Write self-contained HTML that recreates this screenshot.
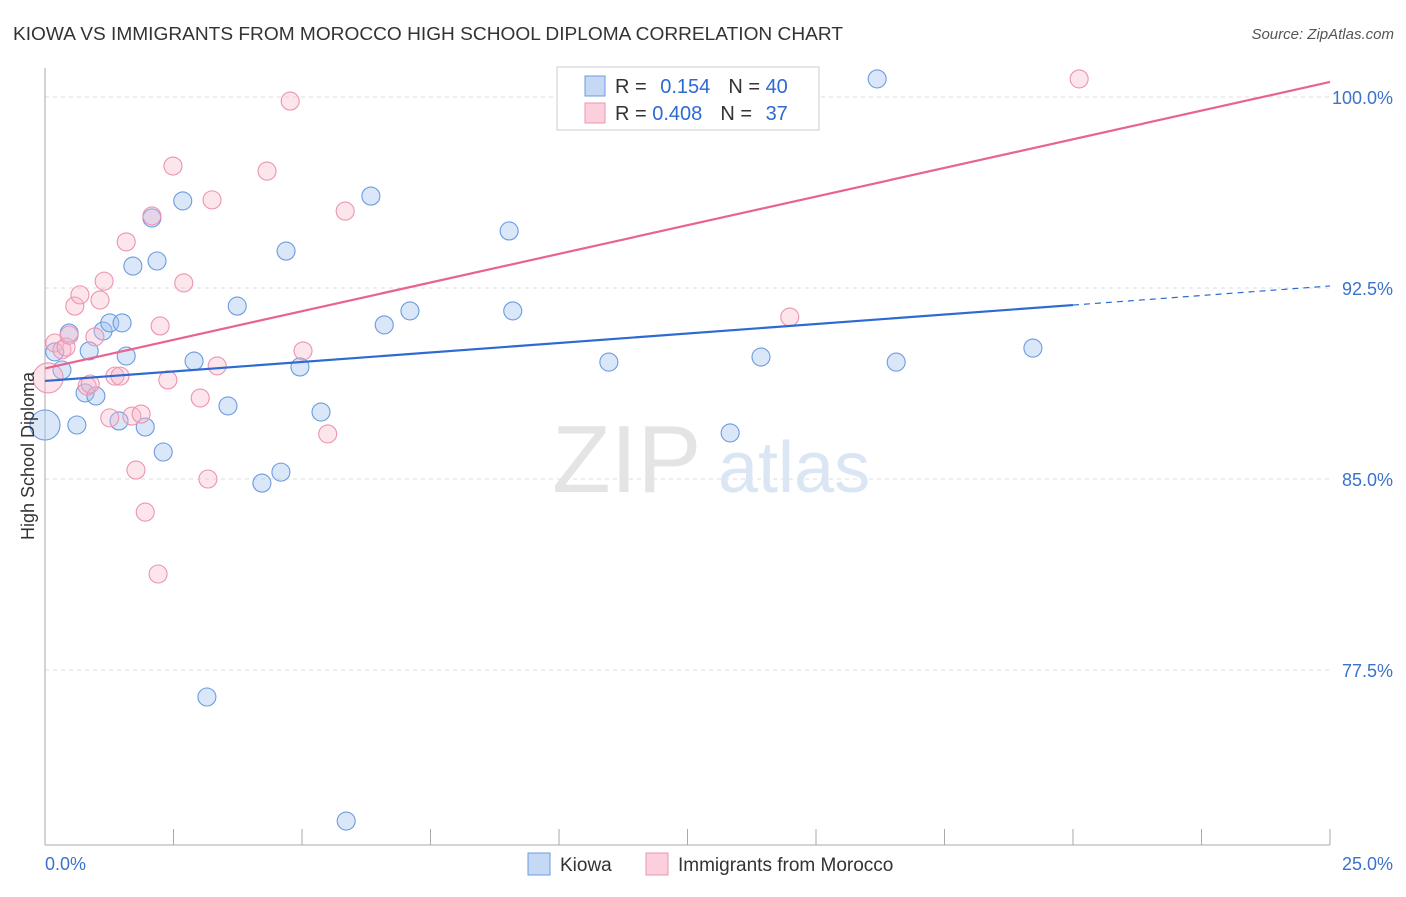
<!DOCTYPE html>
<html><head><meta charset="utf-8"><style>
body{margin:0;background:#fff;font-family:"Liberation Sans",sans-serif}
svg text{font-family:"Liberation Sans",sans-serif}
</style></head><body>
<svg id="chart" width="1406" height="892" xmlns="http://www.w3.org/2000/svg">
<text x="13" y="40" font-size="18" fill="#333" textLength="830" lengthAdjust="spacingAndGlyphs">KIOWA VS IMMIGRANTS FROM MOROCCO HIGH SCHOOL DIPLOMA CORRELATION CHART</text>
<text x="1394" y="39" font-size="15" fill="#555" text-anchor="end" font-style="italic">Source: ZipAtlas.com</text>
<g id="grid"></g>
<g id="wm"><text x="552" y="492" font-size="96" fill="#e4e4e4" font-family="Liberation Serif">ZIP</text><text x="718" y="492" font-size="72" fill="#dbe6f5">atlas</text></g>
<g id="axes"></g>
<g id="pts"></g>
<g id="lines"></g>
<text transform="translate(34,456) rotate(-90)" font-size="18" fill="#333" text-anchor="middle">High School Diploma</text>
<g>
<rect x="557" y="67" width="262" height="63" fill="#fff" stroke="#ccc"/>
<rect x="585" y="76" width="20" height="20" fill="#c5d9f5" stroke="#6c9be0"/>
<rect x="585" y="103" width="20" height="20" fill="#fbcfdc" stroke="#ec94b0"/>
<text x="615" y="93" font-size="20" fill="#333">R = <tspan fill="#2d6ad1" dx="8">0.154</tspan><tspan dx="18" fill="#333">N = </tspan><tspan fill="#2d6ad1">40</tspan></text>
<text x="615" y="120" font-size="20" fill="#333">R = <tspan fill="#2d6ad1">0.408</tspan><tspan dx="18" fill="#333">N = </tspan><tspan fill="#2d6ad1" dx="8">37</tspan></text>
</g>
<g>
<rect x="528" y="853" width="22" height="22" fill="#c5d9f5" stroke="#6c9be0"/>
<text x="560" y="871" font-size="19" fill="#333">Kiowa</text>
<rect x="646" y="853" width="22" height="22" fill="#fbcfdc" stroke="#ec94b0"/>
<text x="678" y="871" font-size="19" fill="#333">Immigrants from Morocco</text>
</g>
</svg>
<script>
const yTicks=[100,92.5,85,77.5];
const yTickLabels=["100.0%","92.5%","85.0%","77.5%"];
const xLabels=["0.0%","25.0%"];
const kiowaX=[0,0.19,0.33,0.47,0.62,0.78,0.86,0.99,1.13,1.26,1.44,1.50,1.58,1.71,1.95,2.08,2.18,2.30,2.68,2.90,3.15,3.56,3.74,4.22,4.59,4.69,4.96,5.37,5.86,6.34,6.60,7.10,9.03,9.10,10.97,13.33,13.93,16.19,16.56,19.22];
const kiowaY=[87.12,89.99,89.28,90.73,87.12,88.38,90.03,88.26,90.81,91.13,87.28,91.13,89.83,93.36,87.04,95.25,93.56,86.06,95.92,89.63,76.44,87.87,91.79,84.84,85.27,93.95,89.40,87.63,71.57,96.11,91.05,91.60,94.74,91.60,89.59,86.81,89.79,100.71,89.59,90.14];
const morX=[0.06,0.19,0.33,0.41,0.47,0.58,0.68,0.82,0.88,0.97,1.07,1.15,1.26,1.36,1.46,1.58,1.69,1.77,1.87,1.95,2.08,2.20,2.24,2.39,2.49,2.70,3.02,3.17,3.25,3.35,4.32,4.77,5.02,5.50,5.84,14.49,20.12];
const morY=[88.97,90.34,90.07,90.18,90.65,91.79,92.23,88.65,88.73,90.58,92.03,92.77,87.40,89.04,89.04,94.31,87.47,85.35,87.55,83.70,95.33,81.27,91.01,88.89,97.29,92.70,88.18,85.00,95.96,89.44,97.09,99.84,90.03,86.77,95.52,91.36,100.71];
const kiowaLine=[88.85,91.83,92.58]; // at x=0,20,25
const morLine=[89.34,100.59]; // at x=0,25
const NS="http://www.w3.org/2000/svg";
const X=v=>45+v/25*1285, Y=v=>97+(100-v)/7.5*191;
function mk(t,a,p){const e=document.createElementNS(NS,t);for(const k in a)e.setAttribute(k,a[k]);document.getElementById(p).appendChild(e);return e;}
yTicks.forEach((t,i)=>{
 const g=mk('line',{x1:45,x2:1330,y1:Y(t),y2:Y(t),stroke:'#ddd','stroke-dasharray':'4,4'},'grid');
 
 
 const l=mk('text',{x:1393,y:Y(t)+7,'font-size':18,fill:'#3b72cc','text-anchor':'end'},'axes');l.textContent=yTickLabels[i];
 
 
});
mk('line',{x1:45,x2:45,y1:68,y2:845,stroke:'#aaa'},'axes');
mk('line',{x1:45,x2:1330,y1:845,y2:845,stroke:'#aaa'},'axes');
for(let i=1;i<=10;i++){const t=mk('line',{x1:X(i*2.5),x2:X(i*2.5),y1:829,y2:845,stroke:'#aaa'},'axes');
 
 }
const xl0=mk('text',{x:45,y:870,'font-size':18,fill:'#3b72cc'},'axes');xl0.textContent=xLabels[0];


const xl1=mk('text',{x:1393,y:870,'font-size':18,fill:'#3b72cc','text-anchor':'end'},'axes');xl1.textContent=xLabels[1];


kiowaX.forEach((v,i)=>{const c=mk('circle',{cx:X(v),cy:Y(kiowaY[i]),r:i==0?15:9,fill:'rgba(160,195,240,0.4)',stroke:'#6c9be0','stroke-width':1.1},'pts');
 
 });
morX.forEach((v,i)=>{const c=mk('circle',{cx:X(v),cy:Y(morY[i]),r:i==0?15:9,fill:'rgba(248,180,200,0.35)',stroke:'#ec94b0','stroke-width':1.1},'pts');
 
 });
const b1=mk('line',{x1:X(0),y1:Y(kiowaLine[0]),x2:X(20),y2:Y(kiowaLine[1]),stroke:'#2d6ad1','stroke-width':2.2},'lines');


const b2=mk('line',{x1:X(20),y1:Y(kiowaLine[1]),x2:X(25),y2:Y(kiowaLine[2]),stroke:'#2d6ad1','stroke-width':1.2,'stroke-dasharray':'6,5'},'lines');


const p1=mk('line',{x1:X(0),y1:Y(morLine[0]),x2:X(25),y2:Y(morLine[1]),stroke:'#e8638e','stroke-width':2.2},'lines');


</script>
</body></html>
